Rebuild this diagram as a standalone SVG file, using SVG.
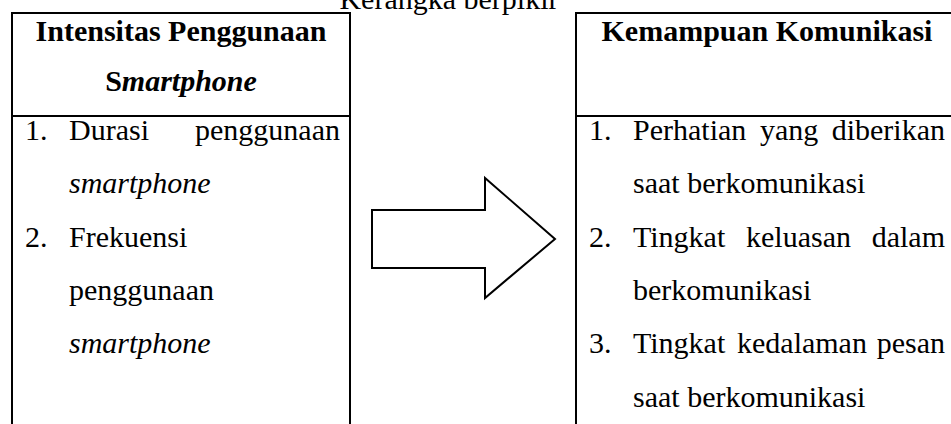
<svg xmlns="http://www.w3.org/2000/svg" width="951" height="424" viewBox="0 0 951 424">
  <style>
    text { font-family: "Liberation Serif", "Times New Roman", serif; font-size: 30px; fill: #000; }
    .b { font-weight: bold; }
    .i { font-style: italic; }
    .mid { text-anchor: middle; }
    .end { text-anchor: end; }
    .box { fill: #fff; stroke: #000; stroke-width: 2; }
    .div { stroke: #000; stroke-width: 2; }
    .arrow { fill: #fff; stroke: #000; stroke-width: 2; stroke-linejoin: miter; }
  </style>
  <rect width="951" height="424" fill="#fff"/>
  <text id="title" class="mid" x="449" y="9">Kerangka berpikir</text>

  <g id="node-intensitas">
    <rect class="box" x="12" y="13" width="338" height="440"/>
    <line class="div" x1="12" y1="116" x2="350" y2="116"/>
    <text class="b mid" x="181" y="41">Intensitas Penggunaan</text>
    <text class="b mid" x="181" y="91">S<tspan class="i">martphone</tspan></text>
    <text x="25" y="140">1.</text>
    <text x="69" y="140">Durasi</text>
    <text class="end" x="340" y="140">penggunaan</text>
    <text class="i" x="69" y="193">smartphone</text>
    <text x="25" y="247">2.</text>
    <text x="69" y="247">Frekuensi</text>
    <text x="69" y="300">penggunaan</text>
    <text class="i" x="69" y="353">smartphone</text>
  </g>

  <g id="node-kemampuan">
    <rect class="box" x="576" y="13" width="400" height="440"/>
    <line class="div" x1="576" y1="116" x2="951" y2="116"/>
    <text class="b mid" x="767" y="41">Kemampuan Komunikasi</text>
    <text x="589" y="140">1.</text>
    <text x="633" y="140">Perhatian</text>
    <text x="760" y="140">yang</text>
    <text class="end" x="945" y="140">diberikan</text>
    <text x="633" y="193">saat berkomunikasi</text>
    <text x="589" y="247">2.</text>
    <text x="633" y="247">Tingkat</text>
    <text x="746" y="247">keluasan</text>
    <text class="end" x="945" y="247">dalam</text>
    <text x="633" y="300">berkomunikasi</text>
    <text x="589" y="353">3.</text>
    <text x="633" y="353">Tingkat</text>
    <text x="737" y="353">kedalaman</text>
    <text class="end" x="945" y="353">pesan</text>
    <text x="633" y="407">saat berkomunikasi</text>
  </g>

  <g id="connectors">
    <polygon class="arrow" points="372,210 485,210 485,178 555,239 485,298 485,268 372,268"/>
  </g>
</svg>
